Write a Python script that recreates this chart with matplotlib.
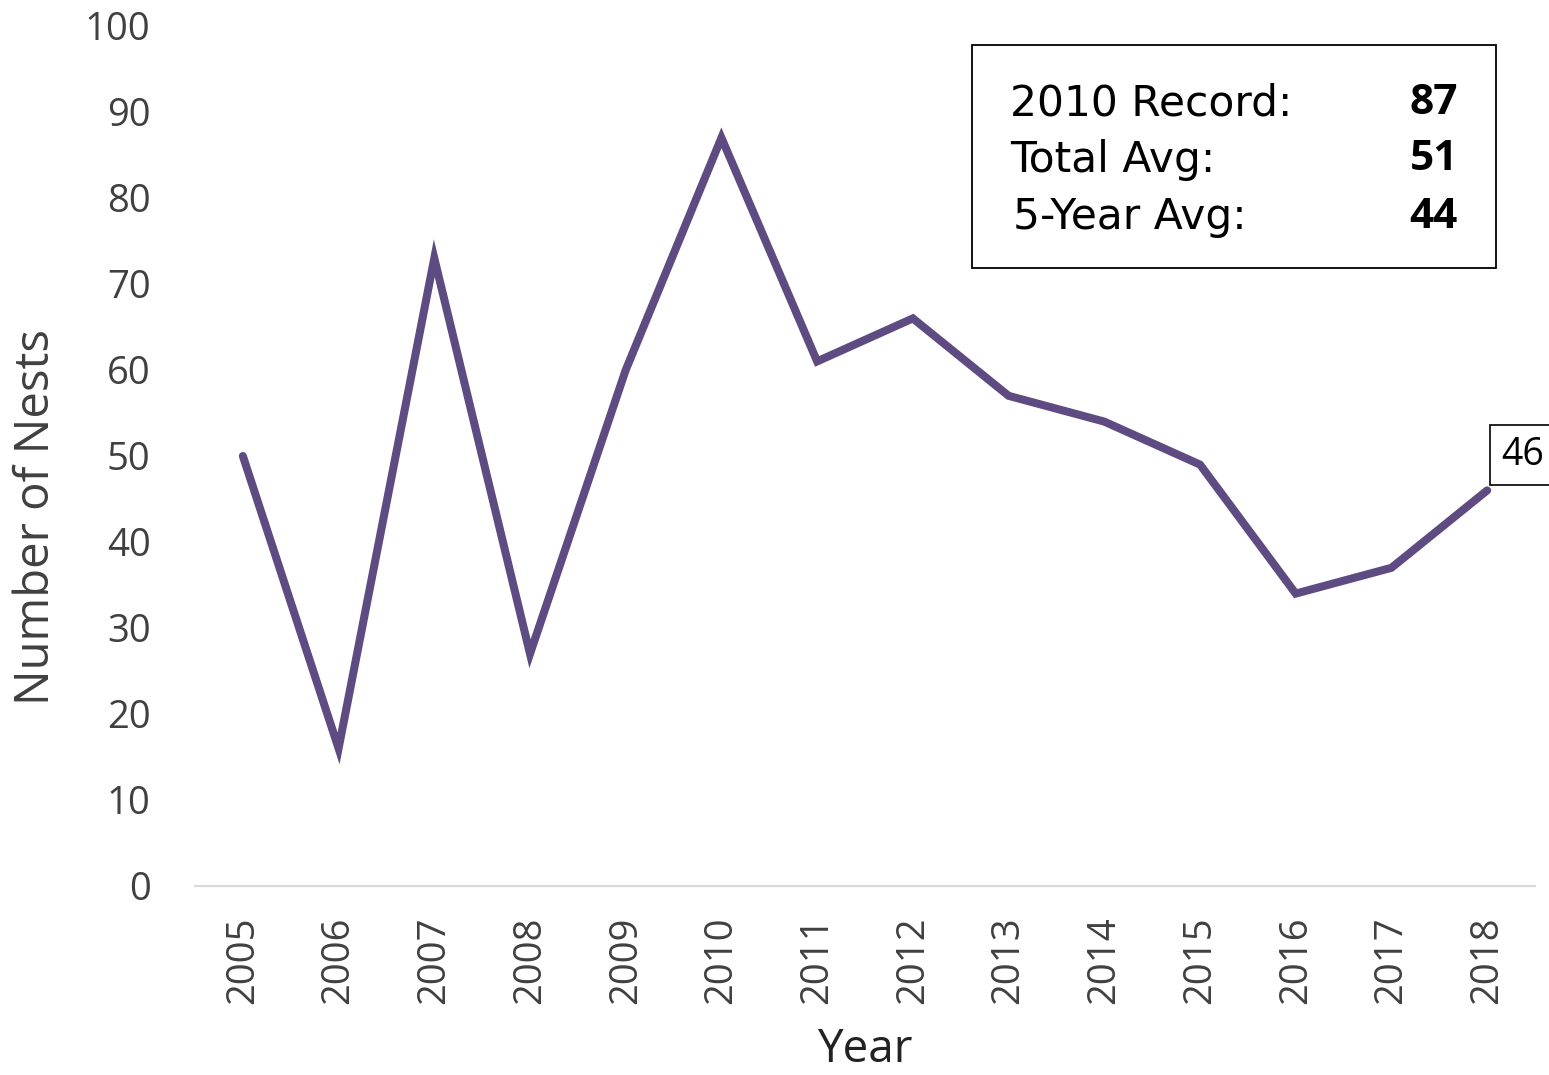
import matplotlib
matplotlib.use("Agg")
import matplotlib.pyplot as plt
from matplotlib.patches import Rectangle

years = ["2005", "2006", "2007", "2008", "2009", "2010", "2011", "2012",
         "2013", "2014", "2015", "2016", "2017", "2018"]
nests = [50, 16, 73, 27, 60, 87, 61, 66, 57, 54, 49, 34, 37, 46]
yticks = [0, 10, 20, 30, 40, 50, 60, 70, 80, 90, 100]
stat_labels = ["2010 Record:", "Total Avg:", "5-Year Avg:"]
stat_values = ["87", "51", "44"]

plt.rcParams['font.family'] = ['Open Sans', 'DejaVu Sans']

W, H = 1549, 1075
fig = plt.figure(figsize=(W / 100, H / 100), dpi=100)
ax = fig.add_axes([195 / W, 1 - 886 / H, (1535 - 195) / W, (886 - 26) / H])

x = list(range(len(years)))
ax.plot(x, nests, color="#5E4B82", lw=5.8, solid_capstyle="round", solid_joinstyle="miter", clip_on=False)

ax.set_xlim(-0.5, len(years) - 0.5)
ax.set_ylim(0, 100)
ax.set_xticks(x)
ax.set_xticklabels(years, rotation=90, fontsize=27.5, color="#404040")
ax.set_yticks(yticks)
ax.set_yticklabels([str(v) for v in yticks], fontsize=27.5, color="#404040")
ax.tick_params(axis="both", length=0)
ax.tick_params(axis="y", pad=32)
ax.tick_params(axis="x", pad=22)
for s in ["top", "right", "left"]:
    ax.spines[s].set_visible(False)
ax.spines["bottom"].set_color("#D9D9D9")
ax.spines["bottom"].set_linewidth(1.5)

fig.text(36 / W, 1 - 517 / H, "Number of Nests", rotation=90, fontsize=34,
         color="#404040", ha="center", va="center")
fig.text(865 / W, 1 - 1050 / H, "Year", fontsize=33, color="#222222",
         ha="center", va="center")

# data label for last point
ax.annotate(str(nests[-1]), xy=(x[-1], nests[-1]), xytext=(1523 / W, 1 - 455 / H),
            textcoords="figure fraction", fontsize=27, color="black",
            ha="center", va="center", family=['Open Sans', 'DejaVu Sans'],
            bbox=dict(boxstyle="square,pad=0.3", fc="white", ec="black", lw=1.2))

# stats box
fig.patches.append(Rectangle((972 / W, 1 - 268 / H), (1496 - 972) / W, (268 - 45) / H,
                             transform=fig.transFigure, fc="white", ec="black", lw=1.3))
rows_y = [103, 160, 217]
for lab, val, ry in zip(stat_labels, stat_values, rows_y):
    fig.text(1010 / W if lab != "5-Year Avg:" else 1013 / W, 1 - ry / H, lab,
             fontsize=30.5, color="black", ha="left", va="center",
             family=['DejaVu Sans'])
    fig.text(1458 / W, 1 - ry / H, val, fontsize=30.5, color="black",
             ha="right", va="center", fontweight="bold", family=['Open Sans', 'DejaVu Sans'])

fig.savefig("out.png", dpi=100)
